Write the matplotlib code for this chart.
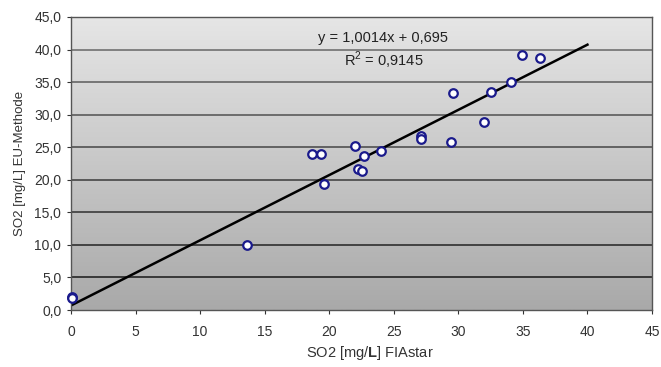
import numpy as np
import matplotlib
matplotlib.use("Agg")
import matplotlib.pyplot as plt

plt.rcParams['font.family'] = ['Liberation Sans', 'DejaVu Sans']
plt.rcParams['mathtext.fontset'] = 'custom'
plt.rcParams['mathtext.rm'] = 'Liberation Sans'
plt.rcParams['mathtext.bf'] = 'Liberation Sans:bold'

fiastar = [0.1, 0.1, 13.6, 18.7, 19.4, 19.6, 22.0, 22.2, 22.5, 22.7, 24.0,
           27.1, 27.1, 29.4, 29.6, 32.0, 32.5, 34.1, 34.9, 36.3]
eu_methode = [2.0, 1.8, 10.0, 24.0, 24.0, 19.4, 25.2, 21.7, 21.4, 23.7, 24.4,
              26.7, 26.3, 25.8, 33.3, 28.9, 33.5, 35.0, 39.2, 38.7]

slope = 1.0014
intercept = 0.695
r2 = 0.9145
fit_x = [0, 40]

x_ticks = list(range(0, 50, 5))
y_ticks = list(range(0, 50, 5))

fig = plt.figure(figsize=(6.61, 3.67), dpi=100)
ax = fig.add_axes([0.1074, 0.1553, 0.8790, 0.7984])

# grey gradient background
grad = np.linspace(0, 1, 256).reshape(-1, 1)
bg = matplotlib.colors.LinearSegmentedColormap.from_list('bg', ['#e6e6e6', '#a9a9a9'])
ax.imshow(grad, extent=[0, 45, 0, 45], aspect='auto', origin='upper', cmap=bg, zorder=0)

# gridlines look grey at the top and black lower down
for yv in y_ticks[1:]:
    g = 0.05 + 0.4 * (yv / 45)
    ax.axhline(yv, color=(g, g, g), lw=1.1, zorder=1)

fx = np.array(fit_x)
ax.plot(fx, slope * fx + intercept, color='black', lw=1.8, zorder=2)

ax.scatter(fiastar, eu_methode, s=38, facecolor='white', edgecolor='#1a1a8c',
           linewidths=1.6, zorder=3, clip_on=False)

ax.set_xlim(0, 45)
ax.set_ylim(0, 45)
ax.set_xticks(x_ticks)
ax.set_yticks(y_ticks)
ax.set_yticklabels([f"{v:.1f}".replace('.', ',') for v in y_ticks])
ax.tick_params(colors='#333333', labelsize=10, length=3, direction='out')
ax.tick_params(axis='x', pad=8)
ax.tick_params(axis='y', pad=4)
for sp in ax.spines.values():
    sp.set_color('#555555')
    sp.set_linewidth(1.0)

ax.set_xlabel("SO2 [mg/$\\mathbf{L}$] FIAstar", fontsize=10.5, color='#333333')
ax.xaxis.set_label_coords(0.515, -0.115)
ax.set_ylabel("SO2 [mg/L] EU-Methode", fontsize=9.5, color='#333333', labelpad=6)

ax.text(24.2, 41.7, f"y = {slope:.4f}x + {intercept:.3f}".replace('.', ','),
        ha='center', va='center', fontsize=10.5, color='#222222')
ax.text(24.2, 38.3, f"R$^2$ = {r2:.4f}".replace('.', ','),
        ha='center', va='center', fontsize=10.5, color='#222222')

fig.savefig("out.png", dpi=100)
